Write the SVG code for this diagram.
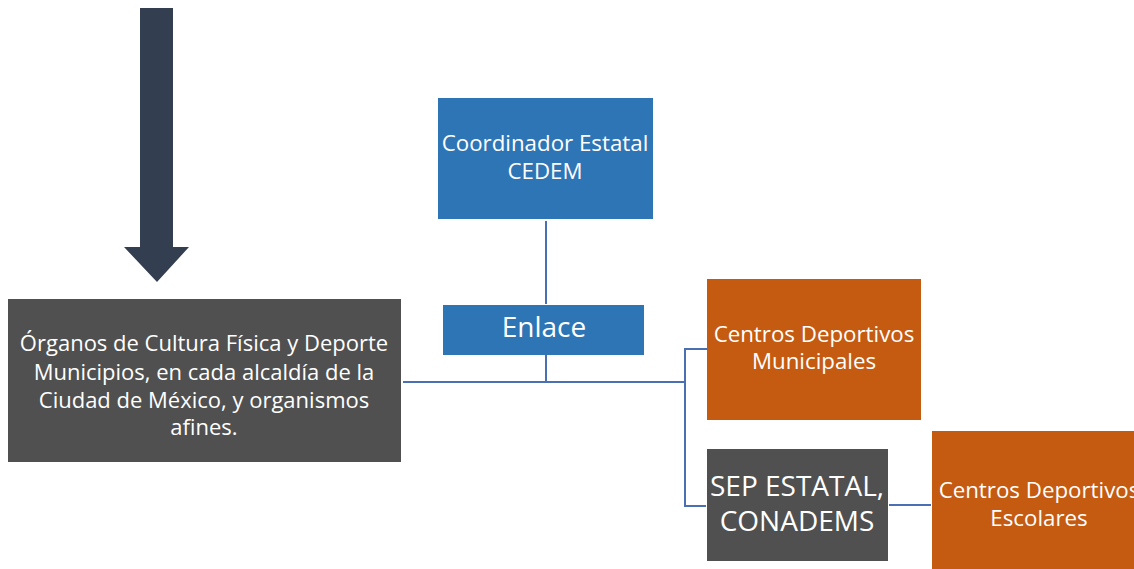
<svg xmlns="http://www.w3.org/2000/svg" width="1134" height="569" viewBox="0 0 1134 569">
<style>
.t{font-family:"Open Sans",Lato,sans-serif;fill:#ffffff;text-anchor:middle}
.s20{font-size:22.3px}
.s26{font-size:28px}
.s21{font-size:22px}
.ln{stroke:#4a6fb5;stroke-width:2;fill:none}
</style>
<rect width="1134" height="569" fill="#ffffff"/>
<g id="arrow">
<polygon points="140,8 173,8 173,247 189,247 157,282 124,247 140,247" fill="#333f50"/>
</g>
<g id="connectors">
<path class="ln" d="M546,221 V304"/>
<path class="ln" d="M546,355 V382" stroke-width="3"/>
<path class="ln" d="M403,382 H685" stroke-width="3"/>
<path class="ln" d="M707,349 H685 V506 H706"/>
<path class="ln" d="M889,505 H931"/>
</g>
<g id="coordinador">
<rect x="438" y="98" width="215" height="121" fill="#2e75b6"/>
<text class="t s20" x="545" y="151">Coordinador Estatal</text>
<text class="t s20" x="545" y="179">CEDEM</text>
</g>
<g id="enlace">
<rect x="443" y="305" width="201" height="50" fill="#2e75b6"/>
<text class="t s26" x="544" y="337">Enlace</text>
</g>
<g id="organos">
<rect x="8" y="299" width="393" height="163" fill="#505050"/>
<text class="t s21" x="204" y="351">Órganos de Cultura Física y Deporte</text>
<text class="t s21" x="204" y="380">Municipios, en cada alcaldía de la</text>
<text class="t s21" x="204" y="408">Ciudad de México, y organismos</text>
<text class="t s21" x="204" y="435">afines.</text>
</g>
<g id="municipales">
<rect x="707" y="279" width="214" height="141" fill="#c55a11"/>
<text class="t s20" x="814" y="342">Centros Deportivos</text>
<text class="t s20" x="814" y="369">Municipales</text>
</g>
<g id="sep">
<rect x="707" y="449" width="181" height="112" fill="#505050"/>
<text class="t s26" x="797" y="496">SEP ESTATAL,</text>
<text class="t s26" x="797" y="531">CONADEMS</text>
</g>
<g id="escolares">
<rect x="932" y="431" width="210" height="140" fill="#c55a11"/>
<text class="t s20" x="1039" y="498">Centros Deportivos</text>
<text class="t s20" x="1039" y="526">Escolares</text>
</g>
</svg>
